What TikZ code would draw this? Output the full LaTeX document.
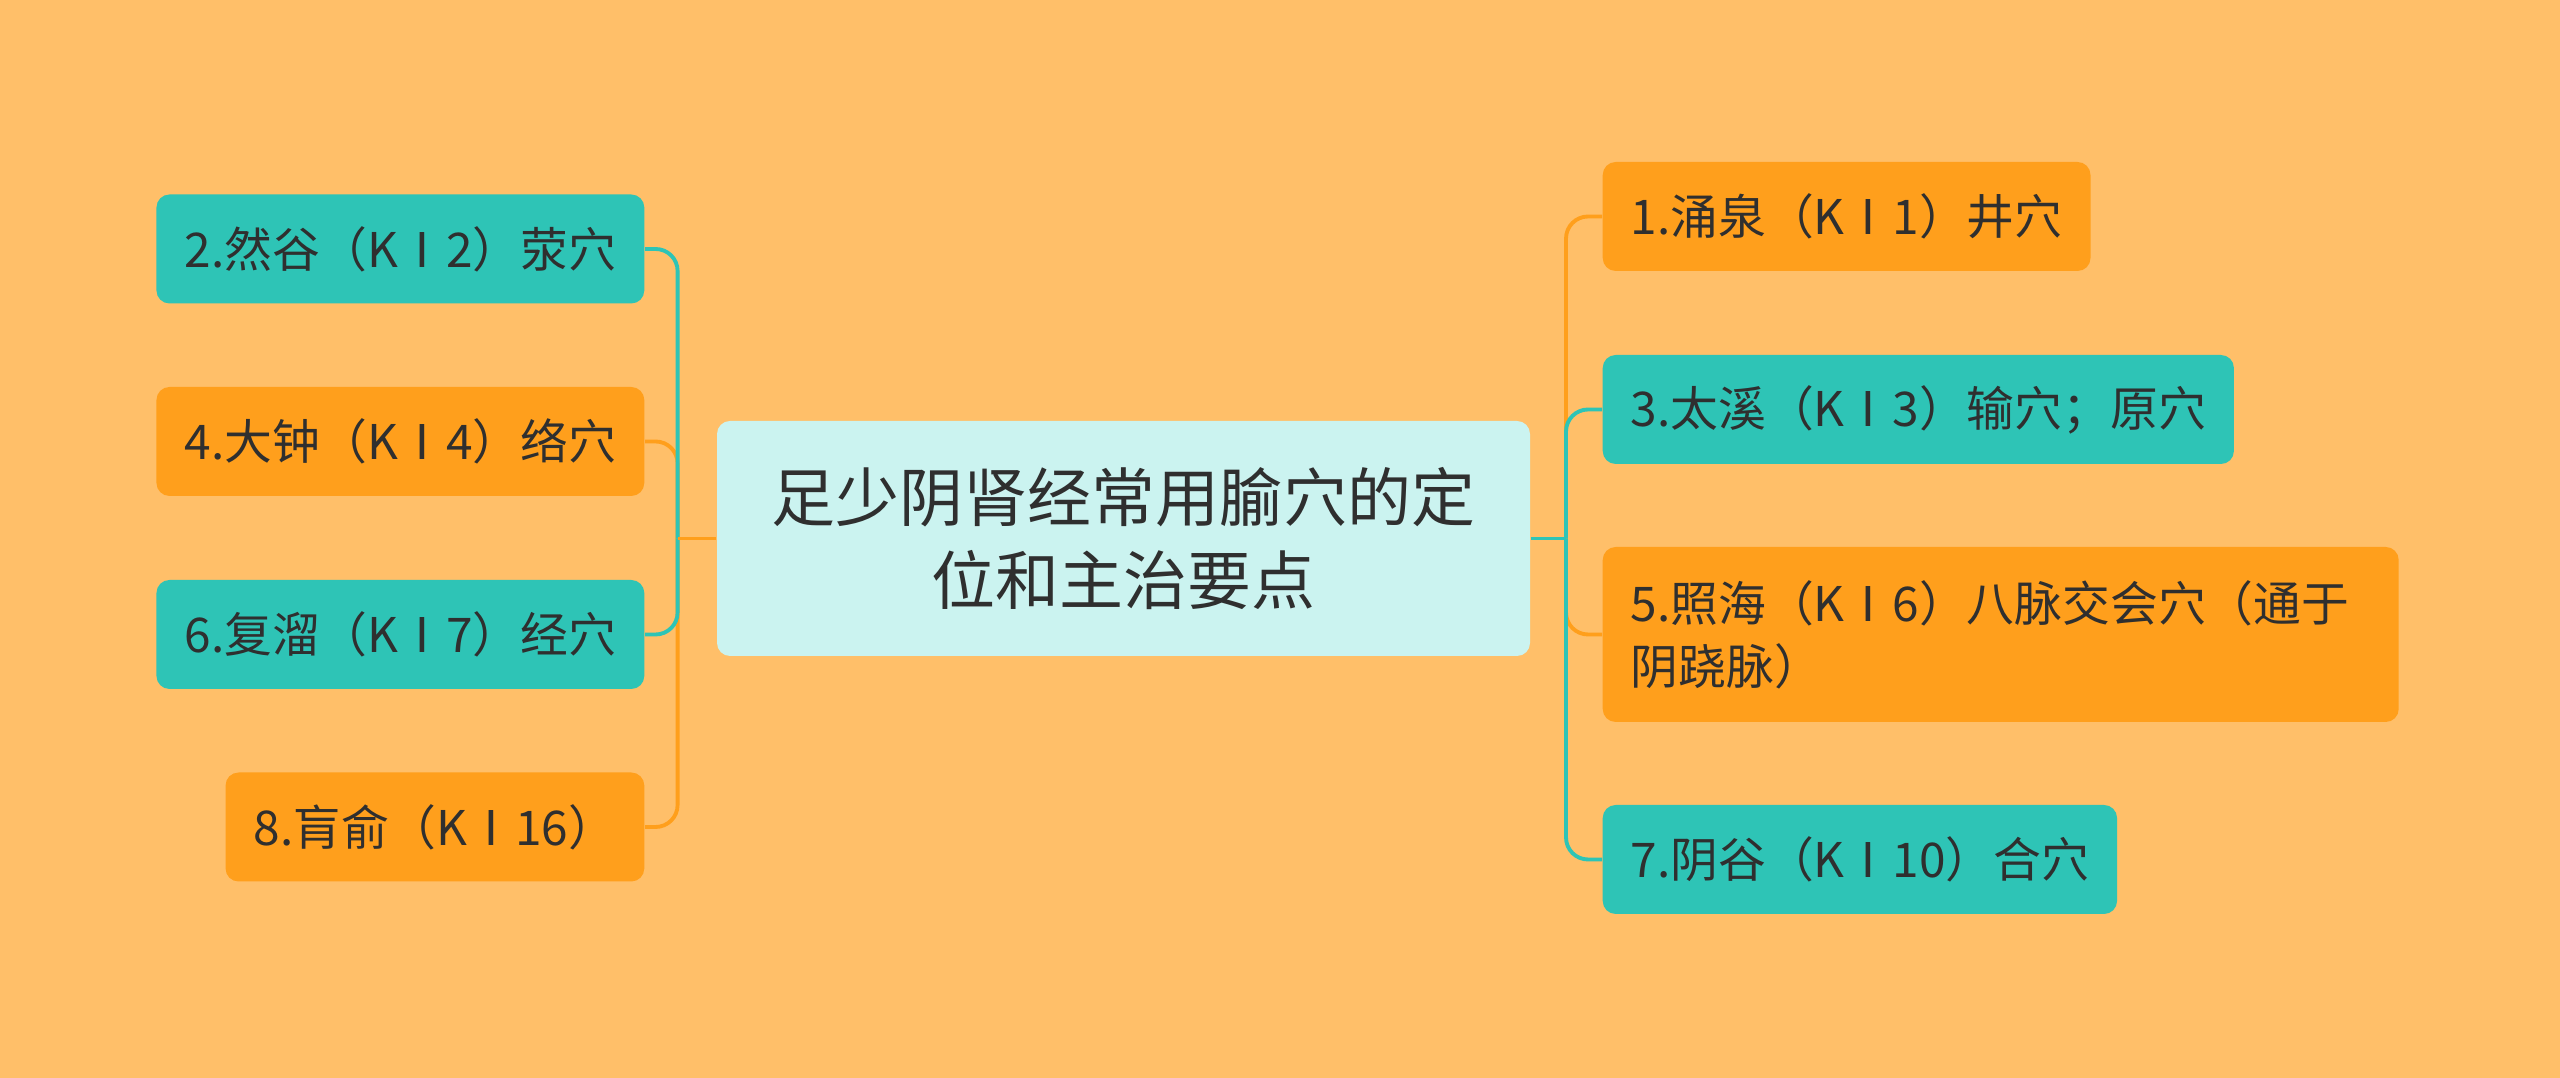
\documentclass[tikz,border=0pt]{standalone}
\usepackage{fontspec}
\setmainfont{Noto Sans CJK SC}
\usepackage{tikz}
\usetikzlibrary{positioning}
\definecolor{bgorange}{HTML}{FFBF69}
\definecolor{leafteal}{HTML}{2EC4B6}
\definecolor{leaforange}{HTML}{FF9F1C}
\definecolor{rootfill}{HTML}{CBF3F0}
\definecolor{inkgray}{HTML}{2F2F2F}

\begin{document}
\begin{tikzpicture}[
  leaf/.style={rounded corners=1.3mm, minimum height=10.9mm, inner xsep=2.8mm, text=inkgray,
    font=\fontsize{13.6}{18}\selectfont},
  tealleaf/.style={leaf, fill=leafteal},
  orangeleaf/.style={leaf, fill=leaforange},
  rootbox/.style={rounded corners=1.3mm, fill=rootfill, text=inkgray, minimum width=81.3mm,
    minimum height=23.5mm, text width=71mm, align=center, font=\fontsize{18.2}{23.6}\selectfont},
  tealline/.style={draw=leafteal, line width=1.1pt, rounded corners=2.2mm},
  orangeline/.style={draw=leaforange, line width=1.1pt, rounded corners=2.2mm}
]

\useasboundingbox (0,0) rectangle (25.6,-10.78);
\fill[bgorange] (0,0) rectangle (25.6,-10.78);

\node[rootbox] (root) at (11.235,-5.385) {足少阴肾经常用腧穴的定\\位和主治要点};

\coordinate (ljoin) at (6.776,-5.385);
\coordinate (rjoin) at (15.66,-5.385);

% left side
\node[tealleaf, anchor=east] (ki2) at (6.45,-2.49) {2.然谷（KⅠ2）荥穴};
\node[orangeleaf, anchor=east] (ki4) at (6.45,-4.415) {4.大钟（KⅠ4）络穴};
\node[tealleaf, anchor=east] (ki7) at (6.45,-6.345) {6.复溜（KⅠ7）经穴};
\node[orangeleaf, anchor=east] (ki16) at (6.45,-8.27) {8.肓俞（KⅠ16）};

% right side
\node[orangeleaf, anchor=west] (ki1) at (16.02,-2.165) {1.涌泉（KⅠ1）井穴};
\node[tealleaf, anchor=west] (ki3) at (16.02,-4.095) {3.太溪（KⅠ3）输穴；原穴};
\node[orangeleaf, anchor=west, text width=74mm, align=left, minimum height=17.5mm] (ki6) at (16.02,-6.345)
  {5.照海（KⅠ6）八脉交会穴（通于\\阴跷脉）};
\node[tealleaf, anchor=west] (ki10) at (16.02,-8.595) {7.阴谷（KⅠ10）合穴};

\draw[orangeline] (ljoin) |- (ki16.east);
\draw[orangeline] (ljoin) |- (ki4.east);
\draw[tealline] (ljoin) |- (ki7.east);
\draw[tealline] (ljoin) |- (ki2.east);
\draw[orangeline] (root.west) -- (ljoin);

\draw[orangeline] (rjoin) |- (ki1.west);
\draw[orangeline] (rjoin) |- (ki6.west);
\draw[tealline] (rjoin) |- (ki3.west);
\draw[tealline] (rjoin) |- (ki10.west);
\draw[tealline] (root.east) -- (rjoin);

\end{tikzpicture}
\end{document}
